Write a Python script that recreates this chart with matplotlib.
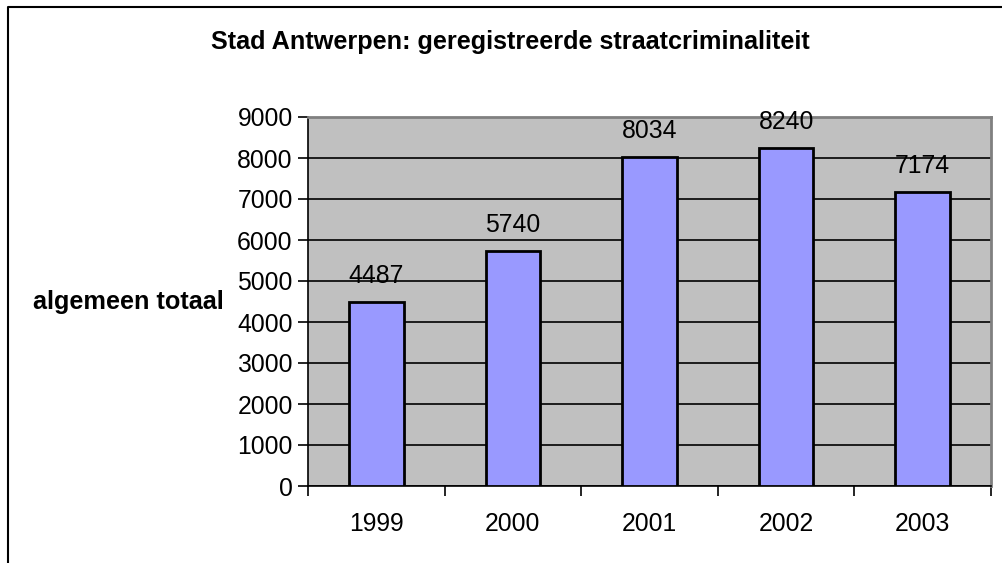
import matplotlib
matplotlib.use("Agg")
import matplotlib.pyplot as plt
from matplotlib.lines import Line2D

# data
jaren = ["1999", "2000", "2001", "2002", "2003"]
totaal = [4487, 5740, 8034, 8240, 7174]

plt.rcParams['font.family'] = ['Liberation Sans', 'DejaVu Sans']

fig = plt.figure(figsize=(10.02, 5.63), dpi=100)
ax = fig.add_axes([308 / 1002, 1 - 486 / 563, (991 - 308) / 1002, (486 - 117) / 563])
ax.set_facecolor('#C0C0C0')

x = list(range(len(jaren)))
ax.bar(x, totaal, width=0.4, color='#9999FF', edgecolor='black', linewidth=2, zorder=3)

for xi, v in zip(x, totaal):
    ax.annotate(str(v), (xi, v), xytext=(0, 10), textcoords='offset points',
                ha='center', va='bottom', fontsize=17.8)

ax.set_xlim(-0.5, len(jaren) - 0.5)
ax.set_ylim(0, 9000)
ax.set_yticks(range(0, 9001, 1000))
ax.yaxis.grid(True, color='black', linewidth=1.2, zorder=0)
ax.set_axisbelow(True)

# categorie labels in het midden, tickstreepjes op de grenzen
ax.set_xticks(x)
ax.set_xticklabels(jaren, fontsize=17.8)
ax.tick_params(axis='x', which='major', length=0, pad=19)
ax.set_xticks([i - 0.5 for i in range(len(jaren) + 1)], minor=True)
ax.tick_params(axis='x', which='minor', length=7, width=1.2, direction='out')
ax.tick_params(axis='y', length=7, width=1.2, labelsize=17.8, pad=4)

for s in ['top', 'right']:
    ax.spines[s].set_color('#808080')
    ax.spines[s].set_linewidth(2)
for s in ['left', 'bottom']:
    ax.spines[s].set_color('black')
    ax.spines[s].set_linewidth(1.2)

ax.set_ylabel('algemeen totaal', rotation=0, fontsize=18.2, fontweight='bold',
              ha='right', va='center')
ax.yaxis.set_label_coords(-0.124, 0.5)

fig.text(510 / 1002, 1 - 42 / 563, 'Stad Antwerpen: geregistreerde straatcriminaliteit',
         ha='center', va='center', fontsize=18.2, fontweight='bold')

# rand van het grafiekvak
fig.add_artist(Line2D([8 / 1002, 8 / 1002, 1.0], [0.0, 1 - 7 / 563, 1 - 7 / 563],
                      transform=fig.transFigure, color='black', linewidth=1.5))

fig.savefig('out.png', dpi=100)
